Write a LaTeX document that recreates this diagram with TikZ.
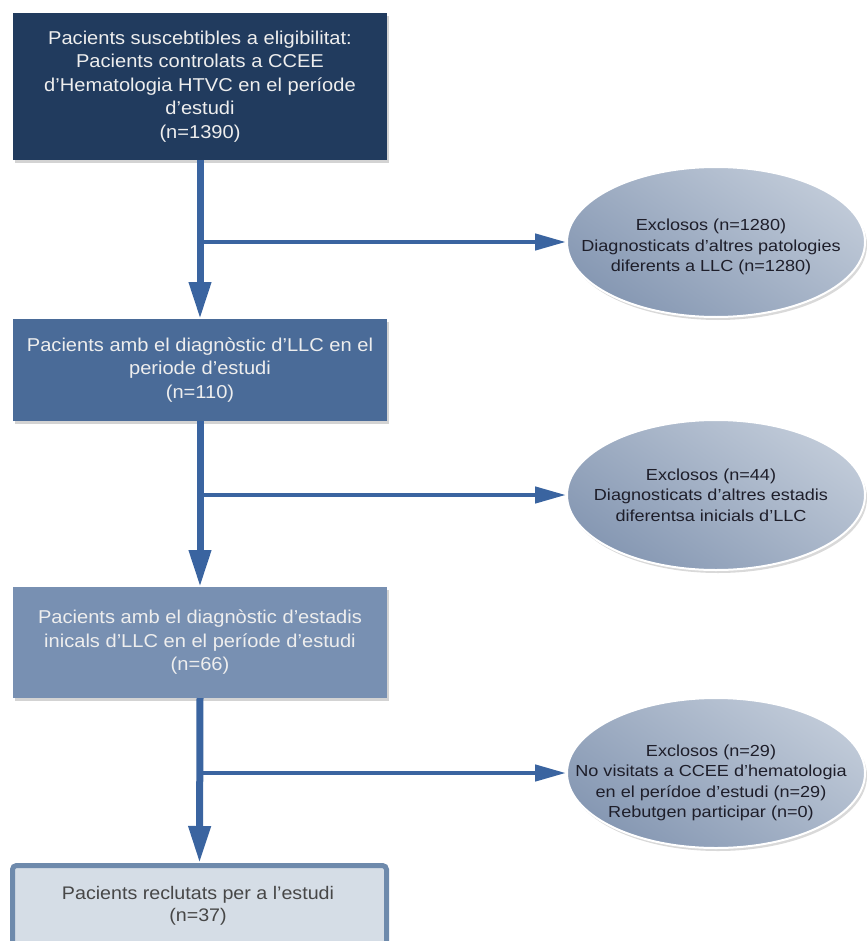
\documentclass[tikz,border=0pt]{standalone}
\usepackage{fontspec}
\setmainfont{Liberation Sans}
\newfontfamily\boxfont{Liberation Sans}[FakeStretch=1.08]
\newfontfamily\ellfont{Liberation Sans}[FakeStretch=1.13]
\usetikzlibrary{arrows.meta,shapes.geometric,shadows}
\definecolor{navy}{HTML}{213B5E}
\definecolor{midblue}{HTML}{4A6B98}
\definecolor{lightblue}{HTML}{7890B2}
\definecolor{palefill}{HTML}{D5DDE6}
\definecolor{paleborder}{HTML}{6E8AAC}
\definecolor{arrowblue}{HTML}{3A64A0}
\definecolor{elllight}{HTML}{C0CAD8}
\definecolor{elldark}{HTML}{8698B3}
\definecolor{elltext}{HTML}{1E1E2A}
\definecolor{boxtext}{HTML}{EEEEEE}
\begin{document}
\begin{tikzpicture}[x=1pt,y=-1pt,
  flowbox/.style={rectangle, minimum width=374pt, inner sep=0pt, outer sep=0pt,
    align=center, text=boxtext, font=\boxfont\fontsize{18.6}{23.5}\selectfont,
    drop shadow={shadow xshift=1.5pt, shadow yshift=-3pt, opacity=0.35}},
  lastbox/.style={rectangle, rounded corners=4pt, minimum width=374pt, inner sep=0pt,
    draw=paleborder, line width=5pt, fill=palefill},
  exclell/.style={ellipse, minimum width=298pt, minimum height=150pt, inner sep=0pt,
    draw=white, line width=2pt, top color=elllight, bottom color=elldark, shading angle=-35,
    drop shadow={shadow xshift=2pt, shadow yshift=-3pt, opacity=0.3}},
  ellt/.style={align=center, text=elltext, font=\ellfont\fontsize{16}{20.5}\selectfont, inner sep=0pt},
  lastt/.style={align=center, text=black!72, font=\boxfont\fontsize{18.2}{22}\selectfont, inner sep=0pt},
  varrow/.style={draw=arrowblue, line width=7pt, -{Triangle[length=37pt,width=21pt]}, arrowblue},
  harrow/.style={draw=arrowblue, line width=4.5pt, -{Triangle[length=31pt,width=16pt]}, arrowblue}
]
\useasboundingbox (0,0) rectangle (867,941);
\clip (0,0) rectangle (867,941);

% main boxes
\node[flowbox, fill=navy, minimum height=147pt] (b1) at (200,86.5)
  {Pacients suscebtibles a eligibilitat:\\Pacients controlats a CCEE\\d’Hematologia HTVC en el període\\d’estudi\\(n=1390)};
\node[flowbox, fill=midblue, minimum height=102pt] (b2) at (200,370)
  {Pacients amb el diagnòstic d’LLC en el\\periode d’estudi\\(n=110)};
\node[flowbox, fill=lightblue, minimum height=111pt] (b3) at (200,642.5)
  {Pacients amb el diagnòstic d’estadis\\inicals d’LLC en el període d’estudi\\(n=66)};
\node[lastbox, minimum height=84.5pt] (b4) at (199.5,907.75) {};
\node[lastt] (t4) at (198,906) {Pacients reclutats per a l’estudi\\(n=37)};

% exclusion ellipses
\node[exclell] (e1) at (716,242) {};
\node[ellt] (t1) at (711,247) {Exclosos (n=1280)\\Diagnosticats d’altres patologies\\diferents a LLC (n=1280)};
\node[exclell] (e2) at (716,495) {};
\node[ellt] (t2) at (711,495) {Exclosos (n=44)\\Diagnosticats d’altres estadis\\diferentsa inicials d’LLC};
\node[exclell] (e3) at (716,773) {};
\node[ellt] (t3) at (711,783) {Exclosos (n=29)\\No visitats a CCEE d’hematologia\\en el perídoe d’estudi (n=29)\\Rebutgen participar (n=0)};

% junctions
\coordinate (j1) at (200,242);
\coordinate (j2) at (200,495);
\coordinate (j3) at (200,773);

% connectors
\draw[varrow] (b1.south) -- (b2.north);
\draw[varrow] (b2.south) -- (b3.north);
\draw[varrow] (b3.south) -- (b4.north);
\draw[harrow] (j1) -- (e1.west);
\draw[harrow] (j2) -- (e2.west);
\draw[harrow] (j3) -- (e3.west);
\end{tikzpicture}
\end{document}
